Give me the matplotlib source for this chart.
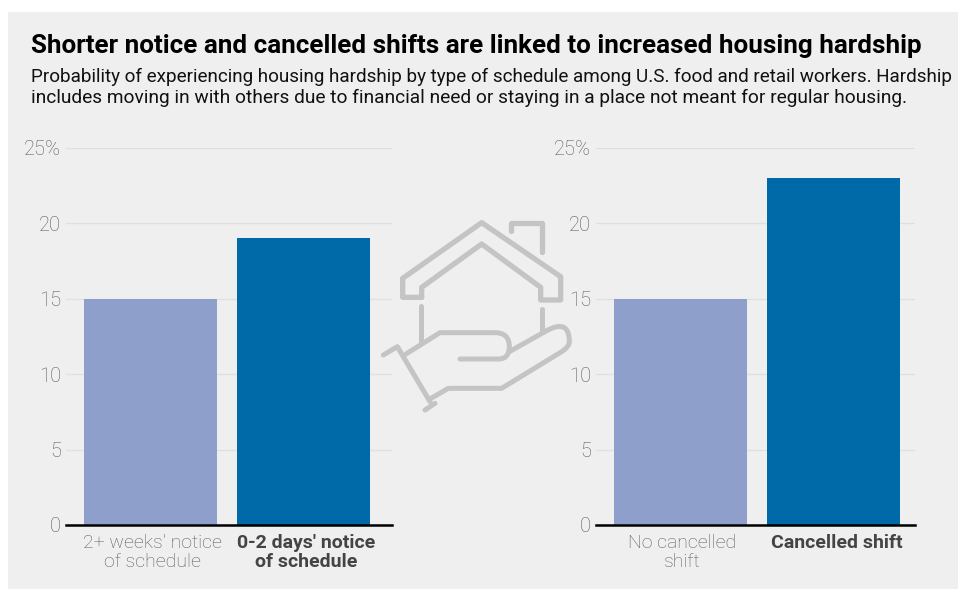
import matplotlib.pyplot as plt
from matplotlib.patches import Rectangle, PathPatch
from matplotlib.path import Path
from matplotlib.transforms import ScaledTranslation

plt.rcParams['font.family'] = ['Roboto', 'DejaVu Sans']

notice_labels = ["2+ weeks' notice\nof schedule", "0-2 days' notice\nof schedule"]
notice_values = [15, 19]
shift_labels = ["No cancelled\nshift", "Cancelled shift"]
shift_values = [15, 23]
y_ticks = [0, 5, 10, 15, 20, 25]
y_tick_labels = ['0', '5', '10', '15', '20', '25%']
colors = ['#8d9fca', '#0069a8']

W, H = 958, 589
BG = '#efefef'


def box(x0, x1, y_top, y_bot):
    return [x0 / W, 1 - y_bot / H, (x1 - x0) / W, (y_bot - y_top) / H]


def draw_bars(rect, labels, values, xlim):
    ax = fig.add_axes(rect, facecolor='none')
    ax.bar([0, 1], values, width=0.87, color=colors, zorder=2)
    ax.set_xlim(*xlim)
    ax.set_ylim(0, 25)
    ax.set_yticks(y_ticks, y_tick_labels, fontsize=14.5, color='#5c5c5c', fontweight='light')
    ax.set_xticks([0, 1], labels, fontsize=14, color='#5c5c5c', fontweight='light',
                  linespacing=1.05)
    bold = ax.get_xticklabels()[1]
    bold.set_fontweight('bold')
    bold.set_color('#444444')
    ax.tick_params(length=0)
    ax.tick_params(axis='y', pad=3.5)
    ax.tick_params(axis='x', pad=6.5)
    # nudge the tick labels a little right of the bar centres
    for lab, shift in zip(ax.get_xticklabels(), [1.5, 3]):
        lab.set_transform(lab.get_transform() + ScaledTranslation(shift / 100, 0, fig.dpi_scale_trans))
    ax.grid(axis='y', color='#e0e0e0', lw=1, zorder=1)
    for side in ['top', 'left', 'right']:
        ax.spines[side].set_visible(False)
    ax.spines['bottom'].set_color('black')
    ax.spines['bottom'].set_linewidth(1.8)
    ax.spines['bottom'].set_zorder(3)
    return ax


fig = plt.figure(figsize=(W / 100, H / 100), dpi=100, facecolor='white')
fig.add_artist(Rectangle((8 / W, 0), 950 / W, 1 - 12 / H, transform=fig.transFigure,
                         facecolor=BG, edgecolor='none', zorder=-1))

draw_bars(box(66, 392, 148, 525), notice_labels, notice_values, (-0.552, 1.578))
draw_bars(box(596, 915, 148, 525), shift_labels, shift_values, (-0.552, 1.533))

fig.text(31 / W, 1 - 46 / H, "Shorter notice and cancelled shifts are linked to increased housing hardship",
         fontsize=18.7, fontweight='bold', color='black', va='center')
fig.text(31 / W, 1 - 77 / H,
         "Probability of experiencing housing hardship by type of schedule among U.S. food and retail workers. Hardship",
         fontsize=13.55, color='#111111', va='center')
fig.text(31 / W, 1 - 98 / H,
         "includes moving in with others due to financial need or staying in a place not meant for regular housing.",
         fontsize=13.75, color='#111111', va='center')

# house-in-hand icon, drawn in pixel space
icon = fig.add_axes([0, 0, 1, 1], facecolor='none')
icon.set_xlim(0, W)
icon.set_ylim(H, 0)
icon.axis('off')


def stroke(points, codes=None, lw=3.8):
    pts = [(370 + x / 3, 210 + y / 3) for x, y in points]
    patch = PathPatch(Path(pts, codes), facecolor='none', edgecolor='#c4c4c4', lw=lw,
                      capstyle='round', joinstyle='round')
    icon.add_patch(patch)


M, L, C = Path.MOVETO, Path.LINETO, Path.CURVE3
stroke([(155, 262), (98, 262), (98, 205), (335, 38), (572, 200), (572, 270),
        (512, 270), (512, 232), (335, 102), (155, 232), (155, 262)])
stroke([(422, 64), (422, 38), (516, 38), (516, 126)])
stroke([(154, 288), (154, 395)], lw=3.6)
stroke([(516, 297), (516, 362)], lw=3.6)
stroke([(108, 432), (210, 368), (375, 368), (418, 368), (418, 410), (418, 447), (385, 447), (270, 447)],
       [M, L, L, C, L, C, L, L], lw=3.6)
stroke([(418, 425), (530, 362), (598, 325), (598, 395), (598, 410), (575, 425), (395, 535),
        (235, 535), (183, 565)],
       [M, L, C, L, C, L, L, L, L], lw=3.6)
stroke([(40, 435), (82, 410), (180, 575)], lw=3.6)
stroke([(165, 600), (195, 580)], lw=3.6)

fig.savefig('out.png', dpi=100)
